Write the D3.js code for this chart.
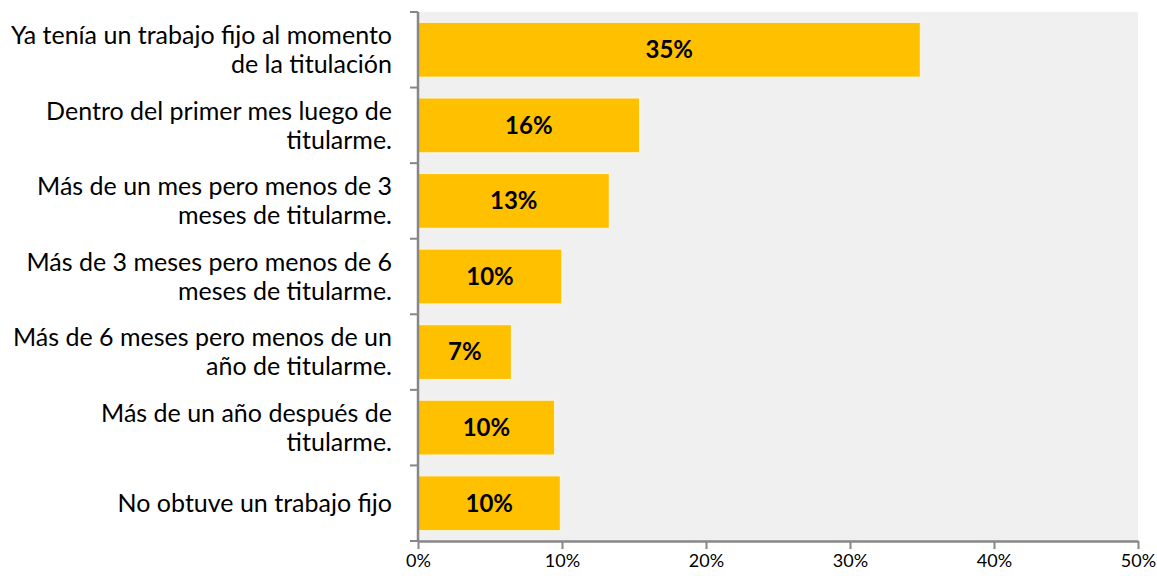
<!DOCTYPE html>
<html>
<head>
<meta charset="utf-8">
<script src="https://cdn.jsdelivr.net/npm/d3@7"></script>
<style>
body { margin: 0; background: #fff; }
svg { font-family: Lato, "Open Sans", sans-serif; }
</style>
</head>
<body>
<div id="chart"></div>
<script>
var w = 1157, h = 576;

// categories, each split into the lines shown on the left
var categories = [
  ["Ya tenía un trabajo fijo al momento", "de la titulación"],
  ["Dentro del primer mes luego de", "titularme."],
  ["Más de un mes pero menos de 3", "meses de titularme."],
  ["Más de 3 meses pero menos de 6", "meses de titularme."],
  ["Más de 6 meses pero menos de un", "año de titularme."],
  ["Más de un año después de", "titularme."],
  ["No obtuve un trabajo fijo"]
];
var values = [34.9, 15.4, 13.3, 10.0, 6.5, 9.5, 9.9];
var valueLabels = ["35%", "16%", "13%", "10%", "7%", "10%", "10%"];
var ticks = [0, 10, 20, 30, 40, 50];

var margin = {top: 12, right: 19, bottom: 35, left: 418};
var iw = w - margin.left - margin.right,
    ih = h - margin.top - margin.bottom;

var svg = d3.select("#chart")
  .append("svg")
  .attr("width", w)
  .attr("height", h);

var g = svg.append("g")
  .attr("transform", "translate(" + margin.left + "," + margin.top + ")");

var x = d3.scaleLinear().domain([0, 50]).range([0, iw]);
var y = d3.scaleBand().domain(d3.range(categories.length)).range([0, ih]).paddingInner(0.27).paddingOuter(0.135);

// plot background
g.append("rect")
  .attr("width", iw)
  .attr("height", ih)
  .style("fill", "#f0f0f0");

// bars
g.selectAll("rect.bar")
  .data(values)
  .enter()
  .append("rect")
  .attr("class", "bar")
  .attr("x", 0)
  .attr("y", function(d, i) { return y(i); })
  .attr("width", function(d) { return x(d); })
  .attr("height", y.bandwidth())
  .style("fill", "#ffc000")
  .style("stroke", "#fbf3de")
  .style("stroke-width", 1.5);

// value labels
g.selectAll("text.val")
  .data(values)
  .enter()
  .append("text")
  .attr("class", "val")
  .attr("x", function(d) { return x(d) / 2; })
  .attr("y", function(d, i) { return y(i) + y.bandwidth() / 2; })
  .attr("dy", "0.35em")
  .attr("text-anchor", "middle")
  .style("font-weight", "bold")
  .style("font-size", "24px")
  .text(function(d, i) { return valueLabels[i]; });

// x axis
var xAxis = g.append("g")
  .attr("transform", "translate(0," + ih + ")")
  .call(d3.axisBottom(x).tickValues(ticks).tickSize(8).tickSizeOuter(0).tickFormat(function(d) { return d + "%"; }));
xAxis.select(".domain").style("stroke", "#878787").style("stroke-width", 2.5);
xAxis.selectAll(".tick line").style("stroke", "#878787").style("stroke-width", 2);
xAxis.selectAll(".tick text")
  .attr("y", 10)
  .attr("dy", "0.9em")
  .style("font-size", "18px")
  .style("fill", "#000")
  .style("font-family", "Lato, 'Open Sans', sans-serif");

// y axis: line with ticks at the category boundaries
g.append("line")
  .attr("x1", 0).attr("x2", 0)
  .attr("y1", 0).attr("y2", ih)
  .style("stroke", "#878787")
  .style("stroke-width", 2.5);
g.selectAll("line.ytick")
  .data(d3.range(categories.length + 1))
  .enter()
  .append("line")
  .attr("class", "ytick")
  .attr("x1", -8).attr("x2", 0)
  .attr("y1", function(i) { return i * ih / categories.length; })
  .attr("y2", function(i) { return i * ih / categories.length; })
  .style("stroke", "#878787")
  .style("stroke-width", 2);

// category labels
var lab = g.selectAll("text.cat")
  .data(categories)
  .enter()
  .append("text")
  .attr("class", "cat")
  .attr("text-anchor", "end")
  .style("font-size", "25px")
  .attr("transform", function(d, i) { return "translate(-26," + (y(i) + y.bandwidth() / 2) + ")"; });

lab.selectAll("tspan")
  .data(function(d) { return d; })
  .enter()
  .append("tspan")
  .attr("x", 0)
  .attr("y", function(t, j) {
    var n = d3.select(this.parentNode).datum().length;
    return (j - (n - 1) / 2) * 29;
  })
  .attr("dy", "0.35em")
  .text(function(t) { return t; });
</script>
</body>
</html>
